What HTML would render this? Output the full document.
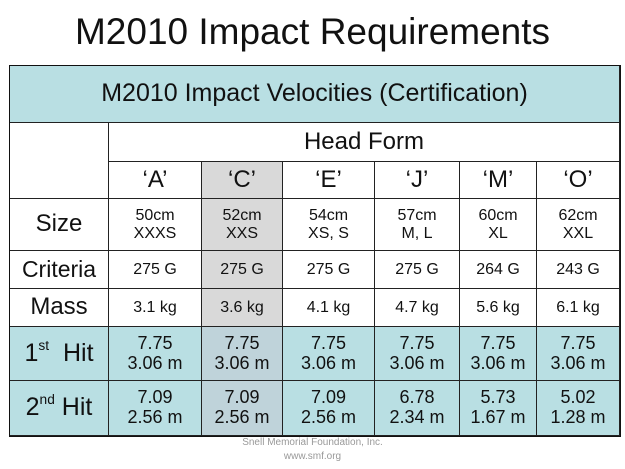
<!DOCTYPE html>
<html><head><style>
body{margin:0;width:625px;height:469px;background:#fff;font-family:"Liberation Sans",sans-serif;position:relative;overflow:hidden}
.t{position:absolute;left:0;width:625px;top:11px;text-align:center;font-size:37px;color:#111}
.c{position:absolute;box-sizing:border-box;display:flex;align-items:center;justify-content:center;text-align:center;color:#111;border-right:1.5px solid #222;border-bottom:1.5px solid #222;line-height:1.1}
.f{position:absolute;left:0;width:625px;text-align:center;font-size:10px;color:#999}
sup{font-size:55%;vertical-align:top;position:relative;top:-2px}
</style></head><body>
<div class="t">M2010 Impact Requirements</div>
<div style="position:absolute;left:9px;top:65px;width:612px;height:372px;border:2px solid #111;box-sizing:border-box"></div>
<div id="g"></div>
<div class="f" style="top:437px">Snell Memorial Foundation, Inc.</div>
<div class="f" style="top:451px">www.smf.org</div>
<script>
var xs=[10,109,202,283,375,460,537,620];
var g=document.getElementById('g');
function cell(x0,x1,y0,y1,html,bg,fs){var d=document.createElement('div');d.className='c';d.style.left=x0+'px';d.style.top=y0+'px';d.style.width=(x1-x0)+'px';d.style.height=(y1-y0)+'px';d.style.background=bg;d.style.fontSize=fs+'px';d.innerHTML='<span>'+html+'</span>';g.appendChild(d);}
var B='#b9dfe3',G='#d9d9d9',BG='#bfd3da',W='#fff';
cell(10,620,66,123,'M2010 Impact Velocities (Certification)',B,25);
cell(10,109,123,199,'',W,20);
cell(109,620,123,162,'Head Form',W,24);
var L=['‘A’','‘C’','‘E’','‘J’','‘M’','‘O’'];
var S=['50cm<br>XXXS','52cm<br>XXS','54cm<br>XS, S','57cm<br>M, L','60cm<br>XL','62cm<br>XXL'];
var C=['275 G','275 G','275 G','275 G','264 G','243 G'];
var M=['3.1 kg','3.6 kg','4.1 kg','4.7 kg','5.6 kg','6.1 kg'];
var H1=['7.75<br>3.06 m','7.75<br>3.06 m','7.75<br>3.06 m','7.75<br>3.06 m','7.75<br>3.06 m','7.75<br>3.06 m'];
var H2=['7.09<br>2.56 m','7.09<br>2.56 m','7.09<br>2.56 m','6.78<br>2.34 m','5.73<br>1.67 m','5.02<br>1.28 m'];
cell(10,109,199,251,'Size',W,24);
cell(10,109,251,289,'Criteria',W,23);
cell(10,109,289,327,'Mass',W,24);
cell(10,109,327,381,'1<sup>st</sup>&nbsp; Hit',B,25);
cell(10,109,381,436,'2<sup>nd</sup> Hit',B,25);
for(var i=0;i<6;i++){var gr=i==1;
cell(xs[i+1],xs[i+2],162,199,L[i],gr?G:W,24);
cell(xs[i+1],xs[i+2],199,251,S[i],gr?G:W,16);
cell(xs[i+1],xs[i+2],251,289,C[i],gr?G:W,16);
cell(xs[i+1],xs[i+2],289,327,M[i],gr?G:W,16);
cell(xs[i+1],xs[i+2],327,381,H1[i],gr?BG:B,18);
cell(xs[i+1],xs[i+2],381,436,H2[i],gr?BG:B,18);}
</script>
</body></html>
